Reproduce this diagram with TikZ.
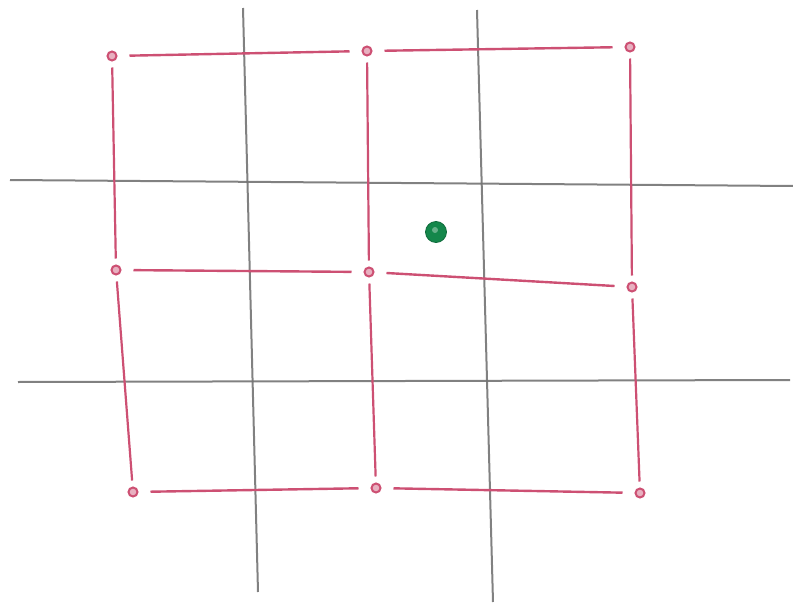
\documentclass[tikz,border=0pt]{standalone}
\usetikzlibrary{calc}
\definecolor{penred}{RGB}{205,80,115}
\definecolor{pencilgray}{RGB}{115,115,115}
\definecolor{dotgreen}{RGB}{20,135,75}
\tikzset{
  x=1pt,y=-1pt,
  gridline/.style={draw=pencilgray, line width=2pt, opacity=0.9},
  knot/.style={circle, draw=penred, line width=2pt, fill=penred!45, inner sep=0pt, minimum size=9pt},
  hlink/.style={draw=penred, line width=2.4pt, shorten <=12pt, shorten >=12pt},
  vlink/.style={draw=penred, line width=2.2pt, shorten <=6pt, shorten >=6pt},
  greendot/.style={circle, fill=dotgreen, draw=dotgreen!80!black, line width=0.8pt, inner sep=0pt, minimum size=21pt}
}
\begin{document}
\begin{tikzpicture}
\useasboundingbox (0,0) rectangle (793,605);
% pencil grid
\coordinate (v1a) at (243,8);  \coordinate (v1b) at (258,592);
\coordinate (v2a) at (477,10); \coordinate (v2b) at (493,602);
\coordinate (h1a) at (10,180); \coordinate (h1b) at (793,186);
\coordinate (h2a) at (18,382); \coordinate (h2b) at (790,380);
\draw[gridline] (v1a) -- (v1b);
\draw[gridline] (v2a) -- (v2b);
\draw[gridline] (h1a) -- (h1b);
\draw[gridline] (h2a) -- (h2b);
% red nodes
\node[knot] (a1) at (112,56) {};
\node[knot] (a2) at (367,51) {};
\node[knot] (a3) at (630,47) {};
\node[knot] (b1) at (116,270) {};
\node[knot] (b2) at (369,272) {};
\node[knot] (b3) at (632,287) {};
\node[knot] (c1) at (133,492) {};
\node[knot] (c2) at (376,488) {};
\node[knot] (c3) at (640,493) {};
% links
\draw[hlink] (a1) -- (a2);
\draw[hlink] (a2) -- (a3);
\draw[hlink] (b1) -- (b2);
\draw[hlink] (b2) -- (b3);
\draw[hlink] (c1) -- (c2);
\draw[hlink] (c2) -- (c3);
\draw[vlink] (a1) -- (b1);
\draw[vlink] (b1) -- (c1);
\draw[vlink] (a2) -- (b2);
\draw[vlink] (b2) -- (c2);
\draw[vlink] (a3) -- (b3);
\draw[vlink] (b3) -- (c3);
% green dot
\node[greendot] (g) at (436,232) {};
\fill[white, opacity=0.35] ($(g)+(-1,-2)$) circle (3pt);
\end{tikzpicture}
\end{document}
